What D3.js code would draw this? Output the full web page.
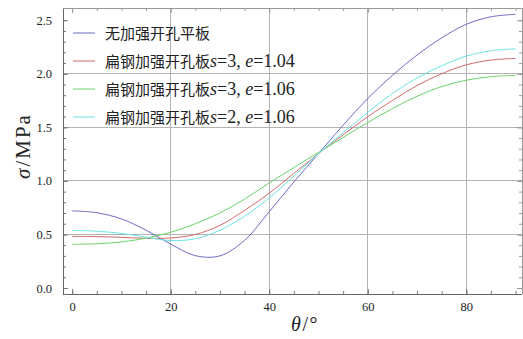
<!DOCTYPE html>
<html>
<head>
<meta charset="utf-8">
<script src="https://cdn.jsdelivr.net/npm/d3@7"></script>
<style>
  body { margin: 0; background: #fff; }
  svg { display: block; }
  .tick text { font-family: "Liberation Serif", "DejaVu Serif", serif; font-size: 12.5px; fill: #222; }
</style>
</head>
<body>
<div id="chart"></div>
<script>
// angle samples (deg)
var theta = [0, 5, 10, 15, 20, 25, 30, 35, 40, 45, 50, 55, 60, 65, 70, 75, 80, 85, 90];

// stress values (MPa)
var plainPlate = [0.72, 0.703, 0.645, 0.54, 0.41, 0.302, 0.3, 0.445, 0.712, 0.99, 1.255, 1.52, 1.77, 1.985, 2.175, 2.335, 2.462, 2.532, 2.555];
var flatS3E104 = [0.482, 0.48, 0.473, 0.464, 0.467, 0.5, 0.585, 0.725, 0.885, 1.07, 1.255, 1.43, 1.6, 1.75, 1.89, 2.0, 2.083, 2.128, 2.143];
var flatS3E106 = [0.408, 0.413, 0.43, 0.465, 0.52, 0.6, 0.7, 0.83, 0.98, 1.125, 1.265, 1.405, 1.545, 1.675, 1.79, 1.88, 1.94, 1.973, 1.985];
var flatS2E106 = [0.538, 0.53, 0.51, 0.474, 0.443, 0.46, 0.54, 0.67, 0.84, 1.045, 1.255, 1.45, 1.64, 1.815, 1.96, 2.075, 2.165, 2.216, 2.232];

var xTicks = [0, 20, 40, 60, 80];
var yTicks = [0.0, 0.5, 1.0, 1.5, 2.0, 2.5];
var xGrid = [20, 40, 60, 80];
var yGrid = [0.5, 1.0, 1.5, 2.0];

var series = [
  {values: plainPlate, color: "#6c6cc6", label: [["无加强开孔平板", false]]},
  {values: flatS3E104, color: "#d46a6a", label: [["扁钢加强开孔板", false], ["s", true], ["=3, ", false], ["e", true], ["=1.04", false]]},
  {values: flatS3E106, color: "#6ad46a", label: [["扁钢加强开孔板", false], ["s", true], ["=3, ", false], ["e", true], ["=1.06", false]]},
  {values: flatS2E106, color: "#6ae4e4", label: [["扁钢加强开孔板", false], ["s", true], ["=2, ", false], ["e", true], ["=1.06", false]]}
];

var W = 523, H = 339;
var pLeft = 63, pRight = 522, pTop = 8, pBottom = 294;

var svg = d3.select("#chart").append("svg").attr("width", W).attr("height", H);

var x = d3.scaleLinear().domain([-1.85, 91.3]).range([pLeft, pRight]);
var y = d3.scaleLinear().domain([-0.056, 2.614]).range([pBottom, pTop]);

var minorX = d3.range(0, 91, 5);
var minorY = d3.range(0, 26).map(function(i){ return i / 10; });

//GRID
svg.append("g").selectAll("line").data(xGrid).enter().append("line")
  .attr("x1", function(d){ return x(d); }).attr("x2", function(d){ return x(d); })
  .attr("y1", pTop).attr("y2", pBottom)
  .attr("stroke", "#b4b4b4").attr("stroke-width", 1).attr("shape-rendering", "crispEdges");
svg.append("g").selectAll("line").data(yGrid).enter().append("line")
  .attr("y1", function(d){ return y(d); }).attr("y2", function(d){ return y(d); })
  .attr("x1", pLeft).attr("x2", pRight)
  .attr("stroke", "#b4b4b4").attr("stroke-width", 1).attr("shape-rendering", "crispEdges");

//AXES (ticks inside the frame)
function styleAxis(g, col){
  g.select(".domain").remove();
  g.selectAll(".tick line").attr("stroke", col);
}

svg.append("g").attr("transform", "translate(0," + pBottom + ")")
  .call(d3.axisBottom(x).tickValues(minorX).tickSize(-3).tickFormat(""))
  .call(styleAxis, "#777");
svg.append("g").attr("transform", "translate(0," + pBottom + ")")
  .call(d3.axisBottom(x).tickValues(xTicks).tickSize(-5).tickPadding(8).tickFormat(d3.format("d")))
  .call(styleAxis, "#777");
svg.append("g").attr("transform", "translate(0," + pTop + ")")
  .call(d3.axisTop(x).tickValues(minorX).tickSize(-3).tickFormat(""))
  .call(styleAxis, "#999");
svg.append("g").attr("transform", "translate(0," + pTop + ")")
  .call(d3.axisTop(x).tickValues(xTicks).tickSize(-5).tickFormat(""))
  .call(styleAxis, "#999");

svg.append("g").attr("transform", "translate(" + pLeft + ",0)")
  .call(d3.axisLeft(y).tickValues(minorY).tickSize(-3).tickFormat(""))
  .call(styleAxis, "#777");
svg.append("g").attr("transform", "translate(" + pLeft + ",0)")
  .call(d3.axisLeft(y).tickValues(yTicks).tickSize(-5).tickPadding(11).tickFormat(d3.format(".1f")))
  .call(styleAxis, "#777");
svg.append("g").attr("transform", "translate(" + pRight + ",0)")
  .call(d3.axisRight(y).tickValues(minorY).tickSize(-3).tickFormat(""))
  .call(styleAxis, "#999");
svg.append("g").attr("transform", "translate(" + pRight + ",0)")
  .call(d3.axisRight(y).tickValues(yTicks).tickSize(-5).tickFormat(""))
  .call(styleAxis, "#999");

//FRAME
svg.append("line").attr("x1", pLeft).attr("x2", pLeft).attr("y1", pTop).attr("y2", pBottom)
  .attr("stroke", "#666").attr("shape-rendering", "crispEdges");
svg.append("line").attr("x1", pLeft).attr("x2", pRight).attr("y1", pBottom).attr("y2", pBottom)
  .attr("stroke", "#666").attr("shape-rendering", "crispEdges");
svg.append("line").attr("x1", pLeft).attr("x2", pRight).attr("y1", pTop).attr("y2", pTop)
  .attr("stroke", "#999").attr("shape-rendering", "crispEdges");
svg.append("line").attr("x1", pRight).attr("x2", pRight).attr("y1", pTop).attr("y2", pBottom)
  .attr("stroke", "#999").attr("shape-rendering", "crispEdges");

//CURVES
var line = d3.line()
  .x(function(d){ return x(d[0]); })
  .y(function(d){ return y(d[1]); })
  .curve(d3.curveCatmullRom.alpha(0.5));

series.forEach(function(s){
  svg.append("path")
    .datum(theta.map(function(t, i){ return [t, s.values[i]]; }))
    .attr("d", line)
    .attr("fill", "none")
    .attr("stroke", s.color)
    .attr("stroke-width", 1);
});

//LEGEND
var legend = svg.append("g");
series.forEach(function(s, i){
  var ly = 33 + i * 28;
  legend.append("line")
    .attr("x1", 73).attr("x2", 95).attr("y1", ly).attr("y2", ly)
    .attr("stroke", s.color).attr("stroke-width", 1);
  var t = legend.append("text").attr("x", 105).attr("y", ly + 5.5)
    .attr("fill", "#222");
  s.label.forEach(function(part){
    var isLatin = !/[\u4e00-\u9fff]/.test(part[0]);
    t.append("tspan")
      .text(part[0])
      .attr("font-family", isLatin ? "Liberation Serif, serif" : "Noto Sans CJK SC, sans-serif")
      .attr("font-size", isLatin ? "18px" : "15px")
      .attr("font-style", part[1] ? "italic" : "normal")
      .style("white-space", "pre");
  });
});

//AXIS TITLES
var xt = svg.append("text").attr("x", 305).attr("y", 331).attr("text-anchor", "middle")
  .attr("font-family", "Liberation Serif, serif").attr("font-size", "20px").attr("fill", "#222")
  .attr("letter-spacing", "1.5px");
xt.append("tspan").attr("font-style", "italic").text("θ");
xt.append("tspan").text("/°");

var yt = svg.append("text").attr("transform", "translate(30,146) rotate(-90)").attr("text-anchor", "middle")
  .attr("font-family", "Liberation Serif, serif").attr("font-size", "21px").attr("fill", "#222")
  .attr("letter-spacing", "2px");
yt.append("tspan").attr("font-style", "italic").text("σ");
yt.append("tspan").text("/MPa");
</script>
</body>
</html>
